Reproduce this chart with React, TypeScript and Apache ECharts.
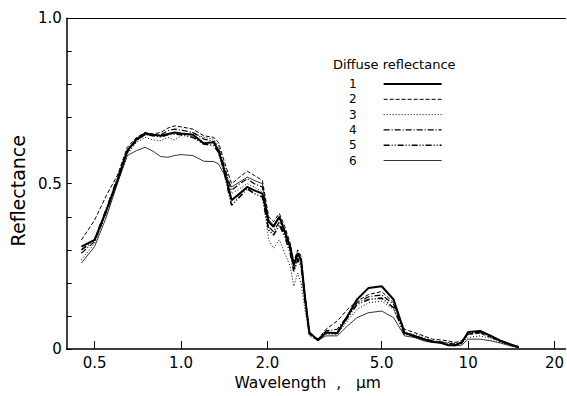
import React, { useEffect, useRef } from "react";
import * as echarts from "echarts";

// Wavelength samples (μm) shared by all six curves
const WAVELENGTHS = [
  0.45, 0.5, 0.55, 0.6, 0.65, 0.7, 0.75, 0.8, 0.85, 0.9,
  0.95, 1.0, 1.1, 1.2, 1.3, 1.35, 1.4, 1.5, 1.6, 1.7,
  1.8, 1.92, 2.02, 2.1, 2.2, 2.3, 2.4, 2.47, 2.55, 2.62,
  2.7, 2.8, 3.0, 3.2, 3.5, 3.8, 4.1, 4.5, 5.0, 5.5,
  6.0, 6.5, 7.0, 7.5, 8.0, 8.5, 9.0, 9.5, 10, 11,
  12, 13, 14, 15,
];

const REFL_1 = [
  0.31, 0.33, 0.42, 0.51, 0.6, 0.635, 0.652, 0.648, 0.645, 0.65,
  0.655, 0.652, 0.648, 0.622, 0.625, 0.6, 0.555, 0.45, 0.47, 0.49,
  0.48, 0.47, 0.385, 0.37, 0.4, 0.355, 0.31, 0.255, 0.29, 0.27,
  0.16, 0.05, 0.027, 0.05, 0.048, 0.1, 0.15, 0.185, 0.19, 0.15,
  0.05, 0.038, 0.03, 0.022, 0.02, 0.012, 0.012, 0.02, 0.052, 0.055,
  0.04, 0.025, 0.015, 0.006,
];
const REFL_2 = [
  0.33, 0.39, 0.465, 0.525, 0.61, 0.64, 0.655, 0.65, 0.655, 0.668,
  0.675, 0.672, 0.665, 0.645, 0.64, 0.625, 0.58, 0.5, 0.52, 0.538,
  0.525, 0.51, 0.4, 0.385, 0.41, 0.37, 0.32, 0.265, 0.3, 0.28,
  0.17, 0.05, 0.03, 0.06, 0.085, 0.12, 0.145, 0.165, 0.174, 0.14,
  0.06, 0.05, 0.04, 0.03, 0.028, 0.025, 0.02, 0.025, 0.045, 0.048,
  0.035, 0.022, 0.012, 0.005,
];
const REFL_3 = [
  0.27, 0.32, 0.41, 0.5, 0.59, 0.625, 0.64, 0.632, 0.63, 0.64,
  0.632, 0.645, 0.655, 0.64, 0.635, 0.615, 0.57, 0.47, 0.485, 0.5,
  0.49, 0.475, 0.33, 0.305, 0.33, 0.29, 0.25, 0.19, 0.23, 0.2,
  0.12, 0.04, 0.027, 0.045, 0.045, 0.085, 0.12, 0.14, 0.145, 0.12,
  0.045, 0.045, 0.035, 0.025, 0.022, 0.02, 0.018, 0.02, 0.035, 0.04,
  0.032, 0.02, 0.012, 0.005,
];
const REFL_4 = [
  0.29, 0.325, 0.415, 0.505, 0.595, 0.63, 0.648, 0.645, 0.648, 0.66,
  0.665, 0.662, 0.655, 0.635, 0.628, 0.608, 0.565, 0.48, 0.5, 0.515,
  0.5, 0.49, 0.37, 0.355, 0.385, 0.345, 0.3, 0.24, 0.275, 0.255,
  0.15, 0.045, 0.03, 0.055, 0.06, 0.1, 0.14, 0.158, 0.164, 0.135,
  0.05, 0.042, 0.032, 0.025, 0.022, 0.018, 0.015, 0.02, 0.045, 0.05,
  0.038, 0.024, 0.014, 0.006,
];
const REFL_5 = [
  0.3, 0.33, 0.425, 0.515, 0.6, 0.632, 0.65, 0.645, 0.642, 0.648,
  0.65, 0.648, 0.64, 0.62, 0.615, 0.595, 0.55, 0.435, 0.46, 0.485,
  0.47, 0.46, 0.36, 0.345, 0.375, 0.34, 0.29, 0.235, 0.27, 0.25,
  0.15, 0.045, 0.027, 0.05, 0.05, 0.095, 0.135, 0.15, 0.154, 0.125,
  0.045, 0.04, 0.03, 0.022, 0.02, 0.015, 0.012, 0.018, 0.05, 0.052,
  0.04, 0.025, 0.015, 0.006,
];
const REFL_6 = [
  0.26, 0.31, 0.4, 0.5, 0.585, 0.6, 0.61, 0.598, 0.582, 0.58,
  0.585, 0.588, 0.585, 0.568, 0.567, 0.56, 0.535, 0.49, 0.505, 0.52,
  0.51, 0.5, 0.39, 0.375, 0.4, 0.355, 0.305, 0.25, 0.285, 0.265,
  0.16, 0.05, 0.027, 0.04, 0.04, 0.07, 0.095, 0.11, 0.115, 0.095,
  0.04, 0.035, 0.025, 0.02, 0.018, 0.012, 0.01, 0.012, 0.03, 0.03,
  0.025, 0.018, 0.01, 0.004,
];

const SERIES_NAMES = ["1", "2", "3", "4", "5", "6"];
const SERIES_VALUES = [REFL_1, REFL_2, REFL_3, REFL_4, REFL_5, REFL_6];

// Logarithmic wavelength axis: ticks and their printed labels
const X_TICKS = [0.5, 1, 2, 5, 10, 20];
const X_TICK_LABELS = ["0.5", "1.0", "2.0", "5.0", "10", "20"];
const X_MIN = 0.4;
const X_MAX = 21.84;

const Y_LABELS: [number, string][] = [
  [0, "0"],
  [0.5, "0.5"],
  [1, "1.0"],
];

const FONT = "DejaVu Sans";

const LINE_STYLES = [
  { width: 2, type: "solid" as const },
  { width: 1, type: [4, 2] },
  { width: 1, type: [1, 2] },
  { width: 1.2, type: [6, 2, 1, 2] },
  { width: 1.6, type: [6, 2, 1, 2, 1, 2] },
  { width: 0.8, type: "solid" as const },
];

export default function App() {
  const ref = useRef<HTMLDivElement>(null);

  useEffect(() => {
    if (!ref.current) return;
    const chart = echarts.init(ref.current, undefined, { renderer: "svg" });

    const lg = (v: number) => Math.log10(v);
    const tickLogs = X_TICKS.map(lg);

    const axisBase = {
      type: "value" as const,
      min: lg(X_MIN),
      max: lg(X_MAX),
      splitLine: { show: false },
    };

    chart.setOption({
      animation: false,
      backgroundColor: "#fff",
      title: {
        text: "Diffuse reflectance",
        left: 333,
        top: 58,
        padding: 0,
        textStyle: { fontFamily: FONT, fontSize: 13, fontWeight: "normal", color: "#000" },
      },
      legend: {
        data: SERIES_NAMES.map((name, k) => ({
          name,
          lineStyle: { width: LINE_STYLES[k].width },
        })),
        orient: "vertical",
        left: 349,
        top: 78,
        align: "right",
        itemWidth: 58,
        itemHeight: 14,
        itemGap: 3.3,
        padding: 0,
        itemStyle: { color: "rgba(0,0,0,0)", borderWidth: 0, opacity: 0 },
        textStyle: {
          fontFamily: FONT,
          fontSize: 12,
          color: "#000",
          padding: [0, 22, 0, 0],
        },
      },
      grid: { left: 61.5, right: 0, top: 18.3, bottom: 38.7 },
      xAxis: [
        {
          ...axisBase,
          position: "bottom",
          name: "Wavelength  ,   μm",
          nameLocation: "middle",
          nameGap: 21,
          nameTextStyle: {
            fontFamily: FONT,
            fontSize: 15.5,
            color: "#000",
            padding: [0, 17, 0, 0],
          },
          axisLine: { show: true, onZero: false, lineStyle: { color: "#000", width: 1.5 } },
          axisTick: {
            show: true,
            inside: true,
            length: 8,
            customValues: tickLogs,
            lineStyle: { color: "#000", width: 1 },
          },
          axisLabel: {
            show: true,
            customValues: tickLogs,
            margin: 6,
            fontFamily: FONT,
            fontSize: 15,
            color: "#000",
            formatter: (v: number) => {
              const i = tickLogs.findIndex((t) => Math.abs(t - v) < 1e-6);
              return i >= 0 ? X_TICK_LABELS[i] : "";
            },
          },
        },
        {
          ...axisBase,
          position: "top",
          axisLine: { show: true, onZero: false, lineStyle: { color: "#000", width: 1.2 } },
          axisTick: { show: false },
          axisLabel: { show: false },
        },
      ],
      yAxis: {
        type: "value",
        min: 0,
        max: 1,
        interval: 0.1,
        name: "Reflectance",
        nameLocation: "middle",
        nameGap: 36,
        nameTextStyle: {
          fontFamily: FONT,
          fontSize: 19,
          color: "#000",
          padding: [0, 14, 0, 0],
        },
        splitLine: { show: false },
        axisLine: { show: true, onZero: false, lineStyle: { color: "#000", width: 1.5 } },
        axisTick: { show: true, inside: true, length: 5, lineStyle: { color: "#000", width: 1 } },
        axisLabel: {
          margin: 5,
          fontFamily: FONT,
          fontSize: 15,
          color: "#000",
          formatter: (v: number) => {
            const hit = Y_LABELS.find(([y]) => Math.abs(y - v) < 1e-6);
            return hit ? hit[1] : "";
          },
        },
      },
      series: SERIES_NAMES.map((name, k) => ({
        name,
        type: "line",
        xAxisIndex: 0,
        symbol: "none",
        showSymbol: false,
        color: "#000",
        lineStyle: { color: "#000", ...LINE_STYLES[k] },
        data: WAVELENGTHS.map((w, i) => [lg(w), SERIES_VALUES[k][i]]),
      })),
    });

    return () => chart.dispose();
  }, []);

  return (
    <div
      ref={ref}
      style={{ position: "fixed", left: 0, top: 0, width: 567, height: 396, background: "#fff" }}
    />
  );
}
